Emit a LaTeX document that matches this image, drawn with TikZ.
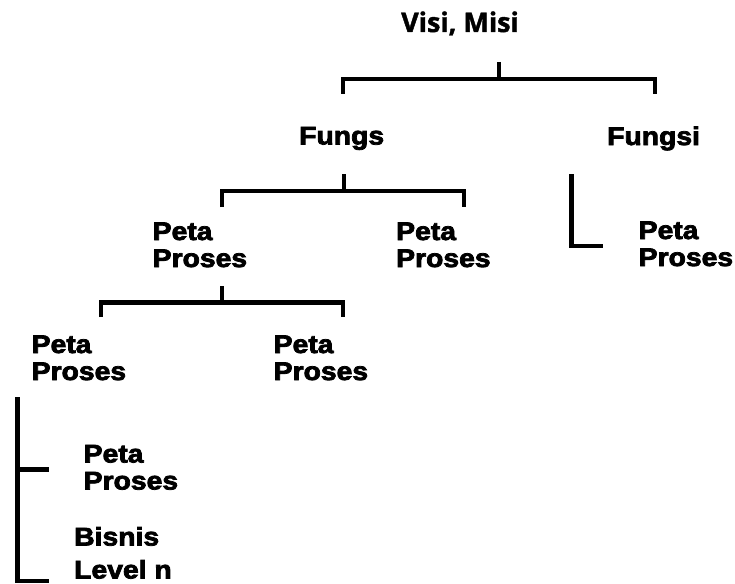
\documentclass[tikz,border=0pt]{standalone}
\usepackage{fontspec}
\newfontfamily\headfont[FakeBold=1.5]{Open Sans}
\newfontfamily\boxfont[FakeStretch=1.11,FakeBold=3]{Liberation Sans}
% two stacked lines whose baseline is the first line's baseline
\newcommand\pairlines[3][27pt]{\vtop{\baselineskip=#1\relax\hbox{#2}\hbox{#3}}}
\begin{document}
\begin{tikzpicture}[x=1pt,y=-1pt,
  bar/.style={line width=4.2pt, line cap=butt, line join=miter},
  lbl/.style={inner sep=0pt, anchor=base west,
    font=\boxfont\bfseries\fontsize{25.5}{27}\selectfont},
  head/.style={inner sep=0pt, anchor=base west,
    font=\headfont\bfseries\fontsize{27}{30}\selectfont}]
\useasboundingbox (0,0) rectangle (735,583);

% labels
\node[head] (visi)   at (401,32)    {Visi, Misi};
\node[lbl]  (fungs)  at (299,144.5) {Fungs};
\node[lbl]  (fungsi) at (607,145)   {Fungsi};
\node[lbl]  (pA)     at (152.5,240) {\pairlines{Peta}{Proses}};
\node[lbl]  (pB)     at (396,240)   {\pairlines{Peta}{Proses}};
\node[lbl]  (pC)     at (638.5,239) {\pairlines{Peta}{Proses}};
\node[lbl]  (pD)     at (31.5,353)  {\pairlines{Peta}{Proses}};
\node[lbl]  (pE)     at (273.5,353) {\pairlines{Peta}{Proses}};
\node[lbl]  (pF)     at (83.5,462.5){\pairlines{Peta}{Proses}};
\node[lbl]  (bis)    at (74,545.5)  {\pairlines[33pt]{Bisnis}{Level n}};

% bracket under Visi, Misi
\coordinate (b1top) at (499,62);
\coordinate (b1mid) at (499,79);
\coordinate (b1l)   at (343,94);
\coordinate (b1r)   at (655,94);
\draw[bar] (b1l) |- (b1mid) -| (b1r);
\draw[bar] (b1top) -- (b1mid);

% bracket under Fungs
\coordinate (b2top) at (344,174);
\coordinate (b2mid) at (344,191);
\coordinate (b2l)   at (222,207);
\coordinate (b2r)   at (464,207);
\draw[bar] (b2l) |- (b2mid) -| (b2r);
\draw[bar] (b2top) -- (b2mid);

% bracket under the left Peta Proses
\coordinate (b3top) at (222,286);
\coordinate (b3mid) at (222,302.5);
\coordinate (b3l)   at (101,317);
\coordinate (b3r)   at (343,317);
\draw[bar] (b3l) |- (b3mid) -| (b3r);
\draw[bar] (b3top) -- (b3mid);

% elbow under Fungsi
\coordinate (b4top) at (571.5,174);
\coordinate (b4end) at (603,246);
\draw[bar] (b4top) |- (b4end);

% side bracket for the lower levels
\coordinate (b5top) at (17.5,397);
\coordinate (b5tick) at (49,469.5);
\coordinate (b5end) at (49,581);
\draw[bar] (b5top) |- (b5end);
\draw[bar] (b5top |- b5tick) -- (b5tick);
\end{tikzpicture}
\end{document}
